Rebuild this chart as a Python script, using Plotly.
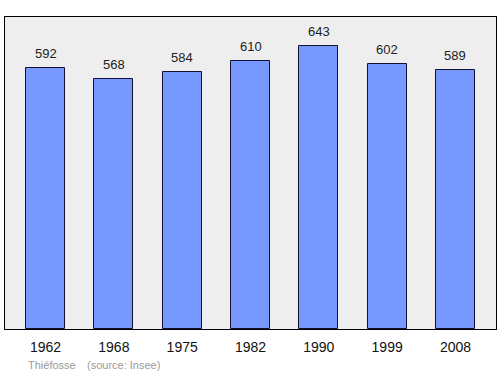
import plotly.graph_objects as go

years = ["1962", "1968", "1975", "1982", "1990", "1999", "2008"]
population = [592, 568, 584, 610, 643, 602, 589]

x_pos = list(range(len(years)))
FONT = "Liberation Sans, Arial, sans-serif"

fig = go.Figure()
fig.add_trace(go.Bar(
    x=x_pos, y=population, width=0.57,
    marker=dict(color="#7799ff", line=dict(color="#111133", width=1)),
))

for xi, v in zip(x_pos, population):
    fig.add_annotation(x=xi, y=v, text=str(v), showarrow=False,
                       xanchor="center", yanchor="bottom", yshift=5,
                       font=dict(family=FONT, size=13, color="#222222"))

fig.update_layout(
    width=500, height=374,
    margin=dict(l=5, r=4, t=17, b=45),
    paper_bgcolor="white", plot_bgcolor="#eeeeee",
    showlegend=False,
    bargap=0,
    xaxis=dict(
        range=[-0.593, 6.593], tickmode="array", tickvals=x_pos, ticktext=years,
        showgrid=False, zeroline=False, showline=True, linecolor="black", linewidth=1,
        mirror=True, ticks="", ticklabelstandoff=5,
        tickfont=dict(family=FONT, size=14, color="#111111"),
    ),
    yaxis=dict(
        range=[0, 709], showgrid=False, zeroline=False, showticklabels=False,
        showline=True, linecolor="black", linewidth=1, mirror=True, ticks="",
    ),
)

fig.add_annotation(text="Thiéfosse", xref="paper", yref="paper", x=(52 - 5)/491, y=-0.116,
                   showarrow=False, xanchor="center", yanchor="middle",
                   font=dict(family=FONT, size=11, color="#999999"))
fig.add_annotation(text="(source: Insee)", xref="paper", yref="paper", x=(123 - 5)/491, y=-0.116,
                   showarrow=False, xanchor="center", yanchor="middle",
                   font=dict(family=FONT, size=11, color="#999999"))

fig.write_html("out.html")
